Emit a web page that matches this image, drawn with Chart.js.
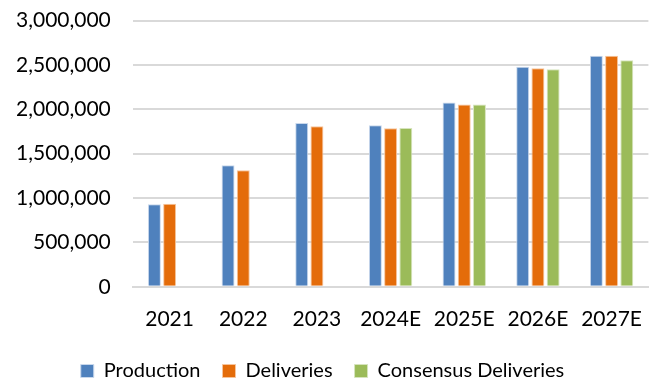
<!DOCTYPE html>
<html>
<head>
<meta charset="utf-8">
<script src="https://cdn.jsdelivr.net/npm/chart.js@4/dist/chart.umd.min.js"></script>
<style>
  html, body { margin: 0; padding: 0; background: #ffffff; }
  #wrap { width: 662px; height: 379px; }
</style>
</head>
<body>
<div id="wrap"><canvas id="volumeChart"></canvas></div>
<script>
// Yearly vehicle volumes (E = estimate)
var years = ['2021', '2022', '2023', '2024E', '2025E', '2026E', '2027E'];
var production = [930000, 1370000, 1845000, 1822000, 2077000, 2480000, 2605000];
var deliveries = [936000, 1313000, 1809000, 1787000, 2055000, 2463000, 2605000];
var consensusDeliveries = [null, null, null, 1790000, 2055000, 2452000, 2553000];

var font = "Lato, 'Open Sans', sans-serif";

// nudge the legend a little to the left of centre
var legendShift = {
  id: 'legendShift',
  afterLayout: function (chart) {
    if (chart.legend) {
      chart.legend.left -= 15;
      chart.legend.right -= 15;
    }
  }
};

var ctx = document.getElementById('volumeChart').getContext('2d');
var chart = new Chart(ctx, {
  type: 'bar',
  data: {
    labels: years,
    datasets: [{
      label: 'Production',
      data: production,
      backgroundColor: '#4f81bd',
      borderColor: '#c9d8ec',
      borderWidth: 1
    }, {
      label: 'Deliveries',
      data: deliveries,
      backgroundColor: '#e46c0a',
      borderColor: '#f6c49c',
      borderWidth: 1
    }, {
      label: 'Consensus Deliveries',
      data: consensusDeliveries,
      backgroundColor: '#9bbb59',
      borderColor: '#d6e4bd',
      borderWidth: 1
    }]
  },
  plugins: [legendShift],
  options: {
    responsive: true,
    maintainAspectRatio: false,
    animation: false,
    layout: {
      padding: { top: 0, right: -5, left: 8, bottom: -12 }
    },
    datasets: {
      bar: {
        categoryPercentage: 0.62,
        barPercentage: 0.85
      }
    },
    plugins: {
      legend: {
        display: true,
        position: 'bottom',
        labels: {
          color: '#000000',
          boxWidth: 13,
          boxHeight: 13,
          padding: 22,
          font: { family: font, size: 20 }
        }
      },
      tooltip: { enabled: false }
    },
    scales: {
      x: {
        grid: { display: false, drawTicks: false },
        border: { color: '#d9d9d9', width: 2 },
        ticks: {
          color: '#000000',
          padding: 20,
          font: { family: font, size: 21 }
        },
        // pull the legend up closer to the year labels
        afterFit: function (scale) {
          scale.height -= 13;
        }
      },
      y: {
        min: 0,
        max: 3000000,
        // invisible tick marks keep the labels away from the plot
        grid: { color: '#d9d9d9', lineWidth: 2, drawTicks: true, tickLength: 14, tickColor: 'rgba(255,255,255,0)' },
        border: { display: false },
        ticks: {
          stepSize: 500000,
          color: '#000000',
          padding: 8,
          font: { family: font, size: 21 },
          callback: function (value) {
            return value.toLocaleString('en-US');
          }
        }
      }
    }
  }
});
</script>
</body>
</html>
